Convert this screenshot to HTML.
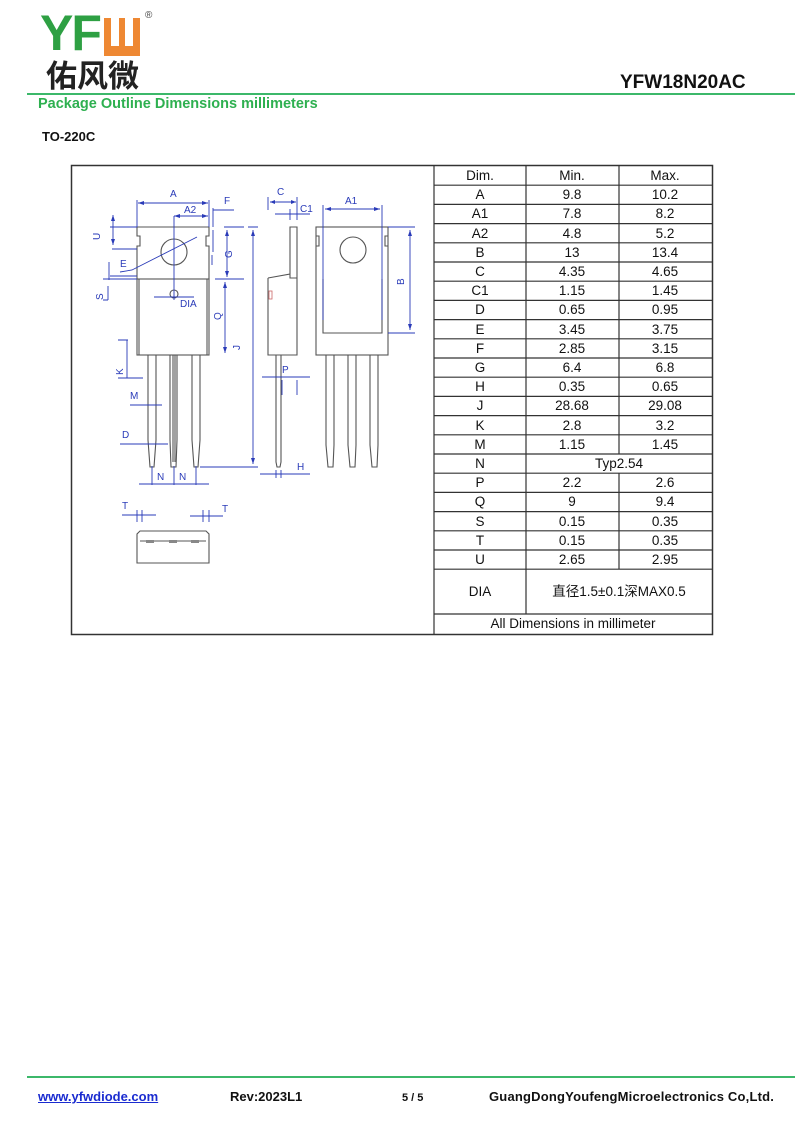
<!DOCTYPE html>
<html><head><meta charset="utf-8"><style>
body{margin:0;background:#fff;width:800px;height:1137px;position:relative;overflow:hidden;font-family:"Liberation Sans","Noto Sans CJK SC",sans-serif}
.a{position:absolute;white-space:nowrap}
</style></head><body>
<div class="a" style="left:40px;top:8px;font:bold 50px/50px 'Liberation Sans',sans-serif;color:#2ea043;letter-spacing:-2px">YF</div>
<div class="a" style="left:104px;top:18px;width:36px;height:38px;background:#ee8833"></div>
<div class="a" style="left:111px;top:18px;width:8px;height:28px;background:#fff"></div>
<div class="a" style="left:125px;top:18px;width:8px;height:28px;background:#fff"></div>
<div class="a" style="left:145px;top:10px;font-size:10px;color:#444">®</div>
<div class="a" style="left:46px;top:56px;font:bold 31px/36px 'Noto Sans CJK SC',sans-serif;color:#222">佑风微</div>
<div class="a" style="left:620px;top:72px;font:bold 19px/22px 'Liberation Sans',sans-serif;color:#111">YFW18N20AC</div>
<div class="a" style="left:27px;top:93px;width:768px;height:2px;background:#3cb86a"></div>
<div class="a" style="left:38px;top:96px;font:bold 14.5px/16px 'Liberation Sans',sans-serif;color:#2eb050">Package Outline Dimensions millimeters</div>
<div class="a" style="left:42px;top:129px;font:bold 13px/15px 'Liberation Sans',sans-serif;color:#111">TO-220C</div>

<svg class="a" style="left:0;top:0" width="800" height="1137" viewBox="0 0 800 1137">
<rect x="71.5" y="165.5" width="641" height="469" fill="none" stroke="#333" stroke-width="1.5"/>
<g stroke="#333" stroke-width="1.2" fill="none">
<line x1="434" y1="165" x2="434" y2="634"/>
<line x1="526" y1="165" x2="526" y2="614"/>
<line x1="619" y1="165" x2="619" y2="569"/>
<line x1="619" y1="454" x2="619" y2="473" stroke="#fff" stroke-width="2"/>
<path d="M434 185.2H712M434 204.4H712M434 223.6H712M434 242.8H712M434 262H712M434 281.2H712M434 300.4H712M434 319.6H712M434 338.8H712M434 358H712M434 377.2H712M434 396.4H712M434 415.6H712M434 434.8H712M434 454H712M434 473.2H712M434 492.4H712M434 511.6H712M434 530.8H712M434 550H712M434 569.2H712M434 614H712"/>
</g>
<g font-size="13.5" fill="#111" text-anchor="middle" font-family="Liberation Sans,sans-serif">
<g transform="translate(480,0)"><text y="180">Dim.</text><text y="199">A</text><text y="218">A1</text><text y="238">A2</text><text y="257">B</text><text y="276">C</text><text y="295">C1</text><text y="314">D</text><text y="334">E</text><text y="353">F</text><text y="372">G</text><text y="391">H</text><text y="410">J</text><text y="430">K</text><text y="449">M</text><text y="468">N</text><text y="487">P</text><text y="506">Q</text><text y="526">S</text><text y="545">T</text><text y="564">U</text><text y="596">DIA</text></g>
<g transform="translate(572,0)"><text y="180">Min.</text><text y="199">9.8</text><text y="218">7.8</text><text y="238">4.8</text><text y="257">13</text><text y="276">4.35</text><text y="295">1.15</text><text y="314">0.65</text><text y="334">3.45</text><text y="353">2.85</text><text y="372">6.4</text><text y="391">0.35</text><text y="410">28.68</text><text y="430">2.8</text><text y="449">1.15</text><text y="506">9</text><text y="526">0.15</text><text y="545">0.15</text><text y="564">2.65</text></g>
<g transform="translate(665,0)"><text y="180">Max.</text><text y="199">10.2</text><text y="218">8.2</text><text y="238">5.2</text><text y="257">13.4</text><text y="276">4.65</text><text y="295">1.45</text><text y="314">0.95</text><text y="334">3.75</text><text y="353">3.15</text><text y="372">6.8</text><text y="391">0.65</text><text y="410">29.08</text><text y="430">3.2</text><text y="449">1.45</text><text y="506">9.4</text><text y="526">0.35</text><text y="545">0.35</text><text y="564">2.95</text></g>
<text x="619" y="468">Typ2.54</text><text x="572" y="487">2.2</text><text x="665" y="487">2.6</text>
<text x="619" y="596" font-family="Liberation Sans,Noto Sans CJK SC,sans-serif">直径1.5±0.1深MAX0.5</text>
<text x="573" y="628">All Dimensions in millimeter</text>
</g>

<g stroke="#555" stroke-width="1.1" fill="none">
<path d="M137 227H209V236H206V246H209V279H137V246H140V236H137Z"/>
<rect x="137" y="279" width="72" height="76"/>
<line x1="139" y1="279" x2="139" y2="355"/><line x1="207" y1="279" x2="207" y2="355"/>
<circle cx="174" cy="252" r="13"/>
<circle cx="174" cy="294" r="4"/>
<path d="M148 355V440L150 467H154L156 440V355M170 355V440L171 467H176L177 440V355M192 355V440L194 467H198L200 440V355"/>
<path d="M173 355V462M175 355V462"/>
<path d="M290 227H297V278H290Z M268 278L290 274V227M268 278V355H297V278M268 278V355"/>
<path d="M276 355V462L277 467H280L281 462V355"/>
<rect x="316" y="227" width="72" height="128"/>
<path d="M316 236H319V246H316M388 236H385V246H388"/>
<path d="M323 279V333H382V279"/>
<circle cx="353" cy="250" r="13"/>
<path d="M326 355V445L328 467H333L334 445V355M348 355V445L350 467H355L356 445V355M370 355V445L372 467H377L378 445V355"/>
<path d="M137 563V534L140 531H206L209 534V563Z M140 541H206"/>
</g>
<g fill="#888"><rect x="146" y="540" width="8" height="3"/><rect x="169" y="540" width="8" height="3"/><rect x="191" y="540" width="8" height="3"/></g>
<g stroke="#c66" stroke-width="0.8" fill="none"><rect x="269" y="291" width="3" height="8"/></g>
<g stroke="#2a3bb8" stroke-width="0.9" fill="none">
<path d="M137 200V227M209 200V227M138 203H208M174 216H208M174 216V300M213 208V227M213 210H234"/>
<path d="M110 227H137M112 249H137M113 215V245M110 276H137M109 262V280M103 279H137M108 286V300M108 300H103"/>
<path d="M224 227H244M224 279H244M227 230V277M213 230V252M212 255V265"/>
<path d="M248 227H258M253 230V464M200 467H258"/>
<path d="M215 279H230M225 282V353"/>
<path d="M118 340H128M118 378H143M127 340V378"/>
<path d="M130 405H162M120 444H168"/>
<path d="M152 466V485M174 466V485M196 466V485M139 484H209"/>
<path d="M154 297H194M120 272L132 270L197 237"/>
<path d="M268 197V210M297 197V210M270 202H296M290 209V220M297 209V220M275 214H310"/>
<path d="M323 205V320M382 205V320M325 209H380M388 227H415M388 333H415M410 230V330"/>
<path d="M282 380V395M297 380V395M262 377H310"/>
<path d="M276 470V478M281 470V478M260 474H310"/>
<path d="M137 510V522M142 510V522M122 515H156M203 510V522M209 510V522M190 516H223"/>
</g>
<g fill="#2a3bb8">
<path d="M138 203l6-2v4zM208 203l-6-2v4zM174 216l6-2v4zM208 216l-6-2v4zM227 230l-2 6h4zM227 277l-2-6h4zM253 230l-2 6h4zM253 464l-2-6h4zM225 282l-2 6h4zM225 353l-2-6h4zM410 230l-2 6h4zM410 330l-2-6h4zM325 209l6-2v4zM380 209l-6-2v4zM270 202l5-2v4zM296 202l-5-2v4zM113 245l-2-6h4zM113 215l-2 6h4z"/>
</g>
<g fill="#2a3bb8" font-size="10" font-family="Liberation Sans,sans-serif">
<text x="170" y="197">A</text><text x="184" y="213">A2</text><text x="224" y="204">F</text><text x="120" y="267">E</text><text x="180" y="307">DIA</text>
<text x="277" y="195">C</text><text x="300" y="212">C1</text><text x="345" y="204">A1</text>
<text x="282" y="373">P</text><text x="297" y="470">H</text>
<text x="130" y="399">M</text><text x="122" y="438">D</text><text x="157" y="480">N</text><text x="179" y="480">N</text>
<text x="122" y="509">T</text><text x="222" y="512">T</text>
<text transform="translate(100,240) rotate(-90)">U</text><text transform="translate(103,300) rotate(-90)">S</text>
<text transform="translate(232,258) rotate(-90)">G</text><text transform="translate(221,320) rotate(-90)">Q</text>
<text transform="translate(240,350) rotate(-90)">J</text><text transform="translate(123,375) rotate(-90)">K</text>
<text transform="translate(404,285) rotate(-90)">B</text>
</g>
</svg>

<div class="a" style="left:27px;top:1076px;width:768px;height:2px;background:#3cb86a"></div>
<div class="a" style="left:38px;top:1090px;font:bold 13px/14px 'Liberation Sans',sans-serif;color:#1a2bd0;text-decoration:underline">www.yfwdiode.com</div>
<div class="a" style="left:230px;top:1090px;font:bold 13px/14px 'Liberation Sans',sans-serif;color:#111">Rev:2023L1</div>
<div class="a" style="left:402px;top:1091px;font:bold 11px/14px 'Liberation Sans',sans-serif;color:#111">5 / 5</div>
<div class="a" style="left:489px;top:1090px;font:bold 13px/14px 'Liberation Sans',sans-serif;color:#111;letter-spacing:0.2px">GuangDongYoufengMicroelectronics Co,Ltd.</div>
</body></html>
